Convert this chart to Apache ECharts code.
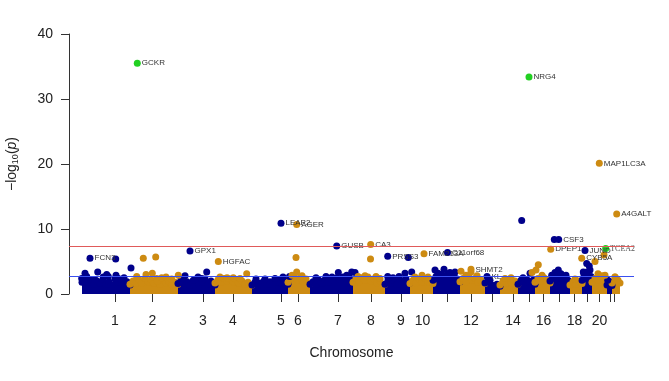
<!DOCTYPE html>
<html>
<head>
<meta charset="utf-8">
<script src="https://cdn.jsdelivr.net/npm/echarts@6.0.0/dist/echarts.min.js"></script>
<style>
  html, body { margin: 0; padding: 0; background: #fff; }
  #main { width: 669px; height: 381px; }
</style>
</head>
<body>
<div id="main"></div>
<script>
// chromosome axis
var chromNames = ['1','2','3','4','5','6','7','8','9','10','11','12','13','14','15','16','17','18','19','20','21','22']
var chromTicks = [35, 72.5, 123, 153, 201, 218, 258, 291, 321, 342.5, 367.5, 391, 412, 433, 449, 463.5, 479, 494.5, 507.5, 519.5, 530.7, 534.3]
var shownChroms = ['1','2','3','4','5','6','7','8','9','10','12','14','16','18','20']

// top of the dense low-p cloud, per chromosome: [position, -log10(p)]
var cloudTops = [
  [[2,1.8],[5,2.3],[8,1.7],[11,2.1],[14,1.5],[17,2.0],[20,1.6],[23,2.2],[26,1.5],[29,1.9],[32,1.4],[35,2.3],[38,1.8],[41,2.1],[44,1.5],[47,1.9],[50,1.4]],
  [[50,1.5],[53,2.0],[56,1.6],[59,2.2],[62,1.7],[65,2.4],[68,1.9],[71,2.2],[74,1.6],[77,2.0],[80,1.5],[83,2.1],[86,1.7],[89,1.9],[92,1.4],[95,1.8],[98,1.5]],
  [[98,1.6],[101,2.2],[104,1.4],[107,1.9],[110,1.3],[113,1.7],[116,2.1],[119,1.4],[122,1.8],[125,2.3],[128,1.5],[131,2.0],[135,1.4]],
  [[135,1.7],[138,2.2],[141,1.8],[144,2.4],[147,2.0],[150,2.3],[153,1.9],[156,2.2],[159,1.6],[162,2.0],[165,1.5],[168,1.8],[172,1.4]],
  [[172,1.4],[175,1.8],[178,1.3],[181,1.7],[184,2.0],[187,1.5],[190,1.9],[193,1.4],[196,1.8],[199,2.1],[202,1.6],[205,2.0],[208,1.5]],
  [[208,1.8],[211,2.4],[214,2.7],[217,2.2],[220,2.5],[223,1.9],[226,2.3],[230,1.6]],
  [[230,1.5],[233,1.9],[236,1.5],[239,2.1],[242,1.6],[245,2.2],[248,1.8],[251,2.3],[254,2.0],[257,2.5],[260,2.2],[263,2.6],[266,2.3],[269,2.7],[273,2.2]],
  [[273,1.8],[276,2.4],[279,1.9],[282,2.5],[285,2.1],[288,2.6],[291,2.0],[294,2.3],[297,1.7],[300,2.0],[305,1.5]],
  [[305,1.5],[308,2.1],[311,1.6],[314,2.0],[317,1.5],[320,2.2],[323,1.8],[326,2.3],[330,1.7]],
  [[330,1.6],[333,2.1],[336,1.7],[339,2.3],[342,1.8],[345,2.4],[348,1.9],[351,2.2],[353,1.6]],
  [[353,2.1],[356,2.7],[359,2.3],[362,3.0],[365,2.5],[368,3.1],[371,2.6],[374,2.9],[377,2.3],[380,1.9]],
  [[380,1.9],[383,2.4],[386,1.9],[389,2.6],[392,2.1],[395,2.4],[398,1.8],[401,2.1],[405,1.6]],
  [[405,1.7],[408,2.0],[411,1.4],[414,1.3],[417,1.5],[420,1.2]],
  [[420,1.4],[423,2.0],[426,1.6],[429,2.2],[432,1.7],[435,2.0],[438,1.5]],
  [[438,1.5],[441,2.1],[444,1.7],[447,2.2],[450,1.9],[453,2.1],[455,1.5]],
  [[455,1.8],[458,2.4],[461,2.0],[464,2.5],[467,2.1],[470,1.7]],
  [[470,2.0],[473,2.6],[476,2.3],[479,2.9],[482,2.4],[485,2.7],[488,2.1],[490,1.7]],
  [[490,1.4],[493,1.9],[496,1.5],[499,2.0],[502,1.6]],
  [[502,2.1],[505,2.9],[508,2.4],[511,2.7],[512,2.1]],
  [[512,1.8],[515,2.4],[518,2.1],[521,2.6],[524,2.2],[527,1.8]],
  [[527,1.4],[529,2.0],[532,1.3]],
  [[532,1.7],[535,2.6],[538,2.1],[540,1.7]]
]

// scattered points above the cloud
var blueDots = [[5,3.2],[17.7,3.4],[26.7,3.0],[36,2.9],[51,4.0],[35.7,5.4],[1.7,2.4],[6.7,2.7],[15,2.2],[23.3,2.6],[28.3,2.7],[38.3,2.4],[44,2.5],
  [126.7,3.4],[103,2.4],[105,2.8],[113.3,2.1],[121.7,2.4],[118,2.6],
  [209.5,2.7],[185,2.3],[176,2.3],[195,2.4],[203,2.6],
  [258.3,3.3],[266.7,2.9],[271.7,3.4],[275,3.3],[236,2.5],[246,2.7],[252,2.6],
  [307.7,2.7],[325,3.2],[331.7,3.4],[328.3,5.6],[313,2.5],[319,2.7],
  [355,3.7],[364,3.8],[375,3.4],[358,3.2],[370,3.3],[410,2.1],
  [441.7,11.3],[450,3.2],[443,2.5],
  [474.3,8.4],[478.3,3.7],[475,3.3],[471.7,2.9],[481,3.1],[486,2.9],
  [506.7,4.7],[509.3,4.3],[510,3.7],[503.3,3.4],[504,3.0],[507,3.4],[527.7,2.1]]
var orangeDots = [[63.3,5.5],[75.7,5.7],[66,3.0],[72.3,3.2],[76.7,2.4],[77.7,2.0],[98.3,2.9],[56.7,2.7],[81.7,2.5],[91.7,2.3],[86,2.6],
  [153.3,2.5],[166.7,3.1],[140,2.6],[147,2.5],[160,2.4],
  [216,5.6],[216.7,3.4],[212,2.9],[222,2.8],
  [290.5,5.4],[285,2.8],[278,2.7],[296,2.7],[300,2.4],
  [342,2.9],[335,2.6],[348,2.6],
  [381,3.5],[391,3.4],[386,2.9],[397,2.8],[425,2.4],[431,2.5],
  [452,3.3],[456,3.7],[458.3,4.5],[462,2.9],[495,2.3],
  [515,5.0],[524,6.0],[525,2.9],[518,3.1],[522,2.8],[535,2.6]]

// annotated genes
var hitGenes = ['GCKR','NRG4','MAP1LC3A','A4GALT','LEAP2','AGER','CSF3','GUSB','CA3','TCEA2','DPEP1','JUND','GPX1','C11orf68','FAM213A','PRSS3','FCN3','CYB5A','HGFAC','SHMT2','KL']
var hitChrom = [2, 15, 20, 22, 5, 6, 17, 7, 8, 20, 16, 19, 3, 11, 10, 9, 1, 18, 4, 12, 13]
var hitPos = [57.3, 449, 519.3, 536.7, 201, 216.7, 478.7, 256.7, 290.7, 525.7, 470.7, 505, 110, 367.5, 344, 307.7, 10, 501.7, 138.3, 391, 407]
var hitLogP = [35.5, 33.4, 20.1, 12.3, 10.9, 10.7, 8.4, 7.4, 7.6, 7.0, 6.9, 6.7, 6.6, 6.4, 6.2, 5.8, 5.5, 5.5, 5.0, 3.8, 2.7]
var greenGenes = ['GCKR', 'NRG4', 'TCEA2']

var genomeLine = 7.3
var suggestiveLine = 2.7

var BLUE = '#00008b'
var ORANGE = '#cd8b12'
var GREEN = '#22d022'

var myChart = echarts.init(document.getElementById('main'))

var series = []
cloudTops.forEach(function(top, i) {
  var col = i % 2 === 0 ? BLUE : ORANGE
  series.push({
    type: 'line',
    data: top,
    symbol: 'circle',
    symbolSize: 7,
    showSymbol: true,
    lineStyle: { width: 0 },
    itemStyle: { color: col },
    areaStyle: { color: col, opacity: 1 },
    silent: true,
    z: 2
  })
})
series.push({
  type: 'scatter', data: blueDots, symbolSize: 7, itemStyle: { color: BLUE, opacity: 1 }, z: 3
})
series.push({
  type: 'scatter', data: orangeDots, symbolSize: 7, itemStyle: { color: ORANGE, opacity: 1 }, z: 3
})

var hitData = hitGenes.map(function(g, i) {
  var col = greenGenes.indexOf(g) >= 0 ? GREEN : (hitChrom[i] % 2 === 1 ? BLUE : ORANGE)
  var item = { name: g, value: [hitPos[i], hitLogP[i]], itemStyle: { color: col } }
  if (g === 'TCEA2') {
    item.label = { offset: [-8, -5], fontFamily: 'Liberation Serif', color: '#555' }
  }
  return item
})
series.push({
  type: 'scatter',
  data: hitData,
  symbolSize: 7,
  itemStyle: { opacity: 1 },
  label: {
    show: true,
    position: 'right',
    distance: 1,
    offset: [0, -3],
    formatter: '{b}',
    fontFamily: 'Liberation Sans',
    fontSize: 8,
    color: '#333'
  },
  labelLayout: { hideOverlap: false },
  z: 4,
  markLine: {
    silent: true,
    symbol: 'none',
    label: { show: false },
    data: [
      { yAxis: genomeLine, lineStyle: { color: '#e05a5a', width: 1, type: 'solid' } },
      { yAxis: suggestiveLine, lineStyle: { color: '#3a4ff0', width: 1, type: 'solid' } }
    ]
  }
})

myChart.setOption({
  animation: false,
  backgroundColor: '#fff',
  grid: { left: 69, right: 35, top: 34, bottom: 87, outerBoundsMode: 'none', containLabel: false },
  xAxis: {
    type: 'value',
    min: -11,
    max: 554,
    name: 'Chromosome',
    nameLocation: 'middle',
    nameGap: 52,
    nameTextStyle: { fontFamily: 'Liberation Sans', fontSize: 14, color: '#222' },
    axisLine: { show: false, onZero: false },
    splitLine: { show: false },
    axisTick: {
      show: true,
      customValues: chromTicks,
      length: 8,
      lineStyle: { color: '#333' }
    },
    axisLabel: {
      customValues: chromTicks.filter(function(t, i) { return shownChroms.indexOf(chromNames[i]) >= 0 }),
      formatter: function(v) {
        return chromNames[chromTicks.indexOf(v)]
      },
      margin: 20,
      fontFamily: 'Liberation Sans',
      fontSize: 14,
      color: '#222'
    }
  },
  yAxis: {
    type: 'value',
    min: 0,
    max: 40,
    interval: 10,
    name: '{t|−log}{s|10}{t|(}{i|p}{t|)}',
    nameLocation: 'middle',
    nameGap: 49,
    nameTextStyle: {
      rich: {
        t: { fontFamily: 'Liberation Sans', fontSize: 14, color: '#222' },
        s: { fontFamily: 'Liberation Sans', fontSize: 9, color: '#222', padding: [6, 0, 0, 0] },
        i: { fontFamily: 'Liberation Sans', fontSize: 14, fontStyle: 'italic', color: '#222' }
      }
    },
    axisLine: { show: true, onZero: false, lineStyle: { color: '#333' } },
    axisTick: { show: true, length: 8, lineStyle: { color: '#333' } },
    splitLine: { show: false },
    axisLabel: { margin: 16, fontFamily: 'Liberation Sans', fontSize: 14, color: '#222' }
  },
  series: series
})
</script>
</body>
</html>
